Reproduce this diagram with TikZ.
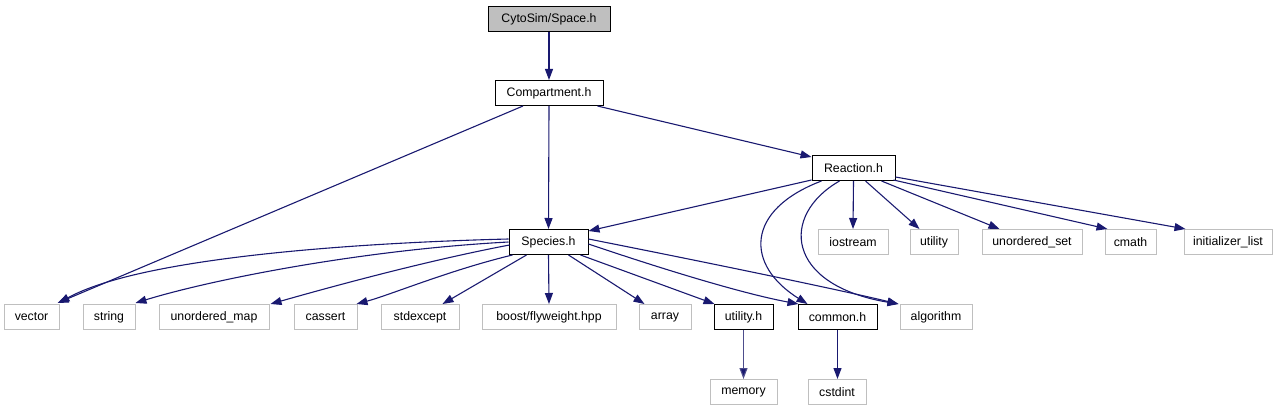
\documentclass[tikz,border=0pt]{standalone}
\usepackage{fontspec}
\setmainfont{Liberation Sans}
\usetikzlibrary{arrows.meta}
\definecolor{edgeblue}{HTML}{191970}
\definecolor{leafgray}{HTML}{BFBFBF}
\definecolor{lightedge}{HTML}{4D4D8C}
\begin{document}
\begin{tikzpicture}[x=1pt,y=-1pt,
  box/.style={draw=black,line width=1pt,minimum height=25pt,inner sep=0pt,font=\fontsize{12.3}{14}\selectfont,fill=white},
  leaf/.style={box,draw=leafgray},
  top/.style={box,fill=leafgray},
  edge/.style={draw=edgeblue,line width=1.1pt,-{Triangle[length=11pt,width=8pt]}},
  ledge/.style={edge,draw=lightedge,-{Triangle[length=11pt,width=8pt,fill=edgeblue]}}
]
\useasboundingbox (0,0) rectangle (1284,411);
% nodes
\node[top,minimum width=122pt] (space) at (549,19) {CytoSim/Space.h};
\node[box,minimum width=108pt] (comp) at (549,93) {Compartment.h};
\node[box,minimum width=83pt] (reac) at (853.5,168) {Reaction.h};
\node[box,minimum width=79pt] (spec) at (548.5,242) {Species.h};
\node[leaf,minimum width=70pt] (iostream) at (853,242) {iostream};
\node[leaf,minimum width=48pt] (utility) at (934,242) {utility};
\node[leaf,minimum width=100pt] (uset) at (1032,242) {unordered\_set};
\node[leaf,minimum width=51pt] (cmath) at (1130.5,242) {cmath};
\node[leaf,minimum width=88pt] (init) at (1228,242) {initializer\_list};
\node[leaf,minimum width=55pt] (vector) at (31.5,317) {vector};
\node[leaf,minimum width=52pt] (string) at (109,317) {string};
\node[leaf,minimum width=110pt] (umap) at (214,317) {unordered\_map};
\node[leaf,minimum width=63pt] (cassert) at (325.5,317) {cassert};
\node[leaf,minimum width=78pt] (stdexcept) at (420,317) {stdexcept};
\node[leaf,minimum width=134pt] (boost) at (549,317) {boost/flyweight.hpp};
\node[leaf,minimum width=52pt] (array) at (665,317) {array};
\node[box,minimum width=59pt] (utilh) at (743.5,317) {utility.h};
\node[box,minimum width=79pt] (common) at (837.5,317) {common.h};
\node[leaf,minimum width=72pt] (algo) at (936,317) {algorithm};
\node[leaf,minimum width=67pt] (memory) at (743.5,392) {memory};
\node[leaf,minimum width=58pt] (cstdint) at (837,392) {cstdint};
% edges
\draw[edge] (space.south) -- (comp.north);
\draw[edge] ([xshift=-26pt]comp.south) -- ([xshift=-2pt,yshift=1pt]vector.north east);
\draw[edge] (comp.south) -- (spec.north);
\draw[edge] ([xshift=-6pt]comp.south east) -- ([yshift=-2pt]reac.north west);
\draw[edge] ([yshift=1pt]reac.south west) -- ([yshift=-2pt]spec.north east);
\draw[edge] ([xshift=10pt]reac.south west) .. controls (745,210) and (745,265) .. ([xshift=10pt]common.north west);
\draw[edge] ([xshift=28pt]reac.south west) .. controls (780,215) and (785,285) .. ([xshift=-1pt]algo.north west);
\draw[edge] (reac.south) -- (iostream.north);
\draw[edge] ([xshift=12pt]reac.south) -- ([xshift=10pt]utility.north west);
\draw[edge] ([xshift=-14pt]reac.south east) -- ([xshift=18pt]uset.north west);
\draw[edge] ([xshift=-2pt,yshift=1pt]reac.south east) -- ([xshift=3pt]cmath.north west);
\draw[edge] ([yshift=4pt]reac.south east) -- ([xshift=2pt]init.north west);
\draw[edge] ([yshift=3pt]spec.west) .. controls (350,243) and (140,258) .. ([xshift=-1pt,yshift=1pt]vector.north east);
\draw[edge] (spec.west) .. controls (360,250) and (210,280) .. ([yshift=1pt]string.north east);
\draw[edge] ([xshift=1pt,yshift=-3pt]spec.west) .. controls (420,262) and (320,290) .. ([xshift=1pt]umap.north east);
\draw[edge] ([xshift=4pt]spec.south west) .. controls (450,270) and (390,295) .. ([xshift=-1pt]cassert.north east);
\draw[edge] ([xshift=18pt]spec.south west) -- ([xshift=-17pt]stdexcept.north east);
\draw[edge] (spec.south) -- (boost.north);
\draw[edge] ([xshift=20pt]spec.south) -- ([xshift=6pt]array.north west);
\draw[edge] ([xshift=-8pt]spec.south east) -- ([xshift=1pt]utilh.north west);
\draw[edge] ([yshift=-2pt]spec.east) .. controls (680,275) and (750,295) .. ([xshift=1pt]common.north west);
\draw[edge] ([yshift=3pt]spec.east) .. controls (720,265) and (840,290) .. ([xshift=-1pt]algo.north west);
\draw[ledge] (utilh.south) -- (memory.north);
\draw[edge] (common.south) -- ([xshift=0.5pt]cstdint.north);
\end{tikzpicture}
\end{document}
